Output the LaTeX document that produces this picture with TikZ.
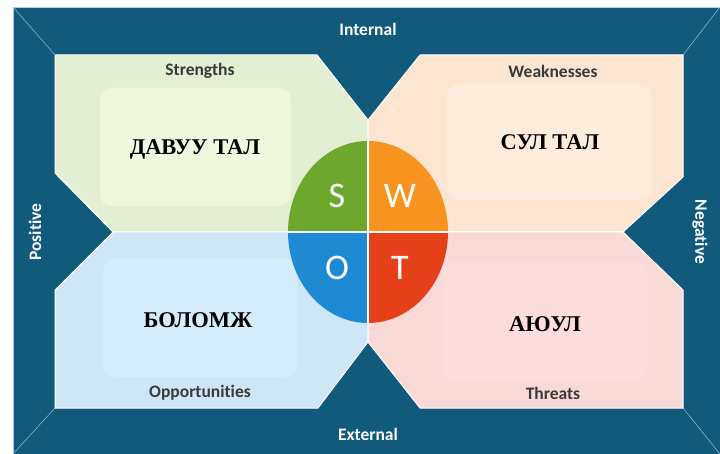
\documentclass[tikz,border=0pt]{standalone}
\usepackage{fontspec}
\newfontfamily\labelfont[RawFeature={-liga,-clig,-calt,-dlig}]{Carlito}
\newfontfamily\cyrfont{Liberation Serif}
\usepackage{tikz}
\usetikzlibrary{positioning}

\definecolor{frameblue}{HTML}{115A7B}
\definecolor{edgeline}{HTML}{A9CCE0}
\definecolor{strout}{HTML}{E2EFD2}
\definecolor{strin}{HTML}{EFF7DC}
\definecolor{weakout}{HTML}{FCE6D1}
\definecolor{weakin}{HTML}{FDEBDB}
\definecolor{oppout}{HTML}{CEE7F6}
\definecolor{oppin}{HTML}{D5EDFB}
\definecolor{throut}{HTML}{FADAD6}
\definecolor{thrin}{HTML}{FDDDDC}
\definecolor{sgreen}{HTML}{6BA82B}
\definecolor{worange}{HTML}{F7931E}
\definecolor{oblue}{HTML}{1E8AD4}
\definecolor{tred}{HTML}{E5401A}
\definecolor{titlegray}{HTML}{3A3A3A}

\begin{document}
\begin{tikzpicture}[x=1pt,y=-1pt,
	panel/.style={draw=white,line width=1pt},
	innerbox/.style={rounded corners=12pt},
	sidelabel/.style={text=white,font=\labelfont\bfseries\fontsize{17.5}{20}\selectfont},
	quadtitle/.style={text=titlegray,font=\labelfont\bfseries\fontsize{17.5}{20}\selectfont},
	bigword/.style={text=black,font=\cyrfont\bfseries\fontsize{22.5}{26}\selectfont},
	letter/.style={text=white,font=\labelfont\fontsize{36}{40}\selectfont}]
		\useasboundingbox (0,0) rectangle (720,454);

		% Frame
		\fill[frameblue] (13,7) rectangle (720,454);
		\draw[edgeline,line width=0.8pt] (13,7) rectangle (720,454);
		\draw[edgeline] (13,7) -- (55,55);
		\draw[edgeline] (720,7) -- (683,55);
		\draw[edgeline] (13,454) -- (55,408);
		\draw[edgeline] (720,454) -- (683,408);

		% Quadrants
		\filldraw[panel,fill=strout] (55,55) -- (317,55) -- (368,120) -- (368,232)
			-- (113,232) -- (55,173) -- cycle;
		\filldraw[panel,fill=weakout] (420,55) -- (683,55) -- (683,177) -- (623,232)
			-- (368,232) -- (368,120) -- cycle;
		\filldraw[panel,fill=oppout] (55,290) -- (113,232) -- (368,232) -- (368,342)
			-- (318,408) -- (55,408) -- cycle;
		\filldraw[panel,fill=throut] (368,232) -- (623,232) -- (683,290) -- (683,408)
			-- (420,408) -- (368,342) -- cycle;

		% Inner boxes
		\fill[innerbox,strin] (100,88) rectangle (291,206);
		\fill[innerbox,weakin] (447,84) rectangle (652,200);
		\fill[innerbox,oppin] (103,259) rectangle (297,377);
		\fill[innerbox,thrin] (443,261) rectangle (647,381);

		% Circle
		\begin{scope}
			\clip (368,232) ellipse [x radius=80pt, y radius=91pt];
			\fill[sgreen] (288,141) rectangle (368,232);
			\fill[worange] (368,141) rectangle (448,232);
			\fill[oblue] (288,232) rectangle (368,323);
			\fill[tred] (368,232) rectangle (448,323);
		\end{scope}
		\draw[white,line width=1.5pt] (368,141) -- (368,323);
		\draw[white,line width=1.5pt] (288,232) -- (448,232);

		% Letters
		\node[letter] (s) at (337,196) {S};
		\node[letter] (w) at (400,196) {W};
		\node[letter] (o) at (337,268) {O};
		\node[letter] (t) at (400,268) {T};

		% Side labels
		\node[sidelabel] (internal) at (368,29) {Internal};
		\node[sidelabel] (external) at (368,434) {External};
		\node[sidelabel,rotate=90] (positive) at (35,232) {Posit\kern0pt ive};
		\node[sidelabel,rotate=-90] (negative) at (700,232) {Negat\kern0pt ive};

		% Quadrant titles
		\node[quadtitle] (strengths) at (200,71) {Strengths};
		\node[quadtitle] (weaknesses) at (553,71) {Weaknesses};
		\node[quadtitle] (opportunities) at (200,393) {Opportunit\kern0pt ies};
		\node[quadtitle] (threats) at (553,393) {Threats};

		% Words
		\node[bigword] (davuu) at (195,149) {ДАВУУ ТАЛ};
		\node[bigword] (sul) at (550,142) {СУЛ ТАЛ};
		\node[bigword] (bolomj) at (198,320) {БОЛОМЖ};
		\node[bigword] (ayuul) at (545,324) {АЮУЛ};
	\end{tikzpicture}
\end{document}
